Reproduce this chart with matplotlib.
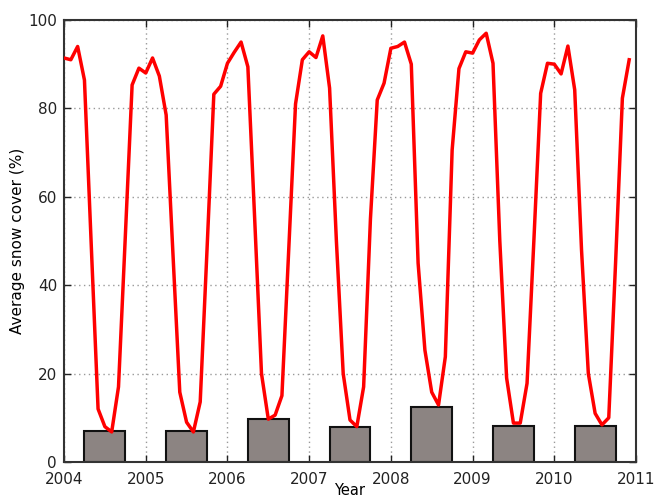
import numpy as np
import matplotlib
matplotlib.use("Agg")
import matplotlib.pyplot as plt

years = [2004, 2005, 2006, 2007, 2008, 2009, 2010]

snow_2004 = [91.4, 91.0, 94.0, 86.4, 49.0, 12.0, 8.0, 6.8, 17.0, 51.0, 85.3, 89.1]
snow_2005 = [88.0, 91.4, 87.3, 78.5, 47.0, 15.8, 9.0, 6.8, 13.6, 48.0, 83.2, 85.0]
snow_2006 = [90.2, 92.7, 95.0, 89.4, 55.0, 20.0, 9.7, 10.6, 15.0, 48.0, 81.0, 91.0]
snow_2007 = [92.8, 91.5, 96.4, 84.6, 50.0, 20.0, 9.5, 8.0, 17.0, 55.0, 81.9, 85.7]
snow_2008 = [93.6, 94.0, 95.0, 90.0, 45.0, 25.3, 15.8, 12.9, 23.8, 70.6, 89.0, 92.8]
snow_2009 = [92.5, 95.5, 97.0, 90.2, 50.0, 19.0, 8.8, 8.8, 17.8, 50.0, 83.4, 90.2]
snow_2010 = [90.0, 87.8, 94.1, 84.2, 48.0, 20.0, 11.0, 8.4, 10.0, 45.0, 82.3, 91.0]

summer_min = [7.1, 7.1, 9.7, 7.9, 12.4, 8.2, 8.1]

x_ticks = [2004, 2005, 2006, 2007, 2008, 2009, 2010, 2011]
y_ticks = [0, 20, 40, 60, 80, 100]

monthly = snow_2004 + snow_2005 + snow_2006 + snow_2007 + snow_2008 + snow_2009 + snow_2010
t = np.array([y + m / 12.0 for y in years for m in range(12)])

fig = plt.figure(figsize=(6.56, 4.98), dpi=100)
ax = fig.add_axes([0.0976, 0.0723, 0.8719, 0.8876])

ax.bar(np.array(years) + 0.5, summer_min, width=0.5, color="#8c8482",
       edgecolor="#111111", linewidth=1.5, zorder=2)
ax.plot(t, monthly, color="#ff0000", linewidth=2.5, zorder=3)

ax.set_xlim(2004, 2011)
ax.set_ylim(0, 100)
ax.set_xticks(x_ticks)
ax.set_xticklabels([str(v) for v in x_ticks])
ax.set_yticks(y_ticks)
ax.grid(True, linestyle=(0, (1, 2.5)), color="#999999", linewidth=1.0, zorder=0)
ax.set_axisbelow(True)
ax.tick_params(direction="in", top=True, right=True, length=5, width=1,
               labelsize=11, colors="#222222")
ax.tick_params(axis="x", pad=7)
ax.tick_params(axis="y", pad=5)
for s in ax.spines.values():
    s.set_linewidth(1.5)
    s.set_color("#333333")

ax.set_xlabel("Year", fontsize=10.5, labelpad=-3)
ax.set_ylabel("Average snow cover (%)", fontsize=11, labelpad=2)

fig.savefig("out.png", dpi=100)
